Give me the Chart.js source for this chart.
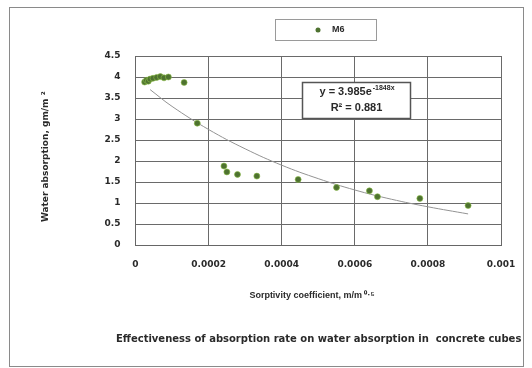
<!DOCTYPE html>
<html>
<head>
<meta charset="utf-8">
<script src="https://cdn.jsdelivr.net/npm/chart.js@4.4.1/dist/chart.umd.min.js"></script>
<style>
  html, body { margin: 0; padding: 0; background: #fff; }
  #wrap { width: 532px; height: 368px; }
</style>
</head>
<body>
<div id="wrap"><canvas id="chart" width="532" height="368"></canvas></div>
<script>
// sorptivity (x) vs water absorption (y), series M6
const seriesName = 'M6';
const sorptivity = [0.000025, 0.00003, 0.000035, 0.00004, 0.000048, 0.000058, 0.000068, 0.000078, 0.00009,
  0.000133, 0.000169, 0.000242, 0.00025, 0.000279, 0.000332, 0.000445, 0.00055, 0.00064, 0.000662, 0.000778, 0.00091];
const absorption = [3.88, 3.92, 3.90, 3.95, 3.97, 3.99, 4.01, 3.98, 4.00,
  3.87, 2.90, 1.88, 1.74, 1.68, 1.64, 1.56, 1.37, 1.29, 1.15, 1.11, 0.94];

// exponential trendline
const trendX = [0.00004, 0.0001, 0.0002, 0.0003, 0.0004, 0.0005, 0.0006, 0.0007, 0.0008, 0.00091];
const trendY = [3.70, 3.30, 2.75, 2.29, 1.90, 1.58, 1.31, 1.09, 0.91, 0.74];

const xTicks = ['0', '0.0002', '0.0004', '0.0006', '0.0008', '0.001'];
const yTicks = ['0', '0.5', '1', '1.5', '2', '2.5', '3', '3.5', '4', '4.5'];

const xTitle = 'Sorptivity coefficient, m/m \u2070\u00B7\u2075     ';
const yTitle = 'Water absorption, gm/m \u00B2    ';
const caption = 'Effectiveness of absorption rate on water absorption in  concrete cubes';
const eqMain = 'y = 3.985e';
const eqExp = '-1848x';
const eqR2 = 'R\u00B2 = 0.881';

const FONT = '"Liberation Sans", Arial, sans-serif';
const WIDE = '"DejaVu Sans", Verdana, sans-serif';
const TXT = '#2a2a2a';

const extras = {
  id: 'extras',
  afterDraw(chart) {
    const ctx = chart.ctx;
    ctx.save();
    // outer frame
    ctx.strokeStyle = '#8a8a8a';
    ctx.lineWidth = 1;
    ctx.strokeRect(9.5, 7.5, 514, 359);

    // legend box
    ctx.strokeStyle = '#9a9a9a';
    ctx.strokeRect(275.5, 19.5, 101, 21);
    ctx.fillStyle = '#4e7230';
    ctx.beginPath();
    ctx.arc(318, 30, 2.5, 0, Math.PI * 2);
    ctx.fill();
    ctx.fillStyle = TXT;
    ctx.font = 'bold 9px ' + FONT;
    ctx.textBaseline = 'middle';
    ctx.textAlign = 'left';
    ctx.fillText(seriesName, 332, 30);

    // equation box
    ctx.fillStyle = '#fff';
    ctx.fillRect(302, 82, 109, 37);
    ctx.strokeStyle = '#555';
    ctx.lineWidth = 1.5;
    ctx.strokeRect(302.5, 82.5, 108, 36);
    ctx.fillStyle = TXT;
    ctx.font = 'bold 11px ' + FONT;
    const w1 = ctx.measureText(eqMain).width;
    ctx.font = 'bold 7px ' + FONT;
    const w2 = ctx.measureText(eqExp).width;
    let x0 = 356.5 - (w1 + w2) / 2;
    ctx.font = 'bold 11px ' + FONT;
    ctx.fillText(eqMain, x0, 92);
    ctx.font = 'bold 7px ' + FONT;
    ctx.fillText(eqExp, x0 + w1 + 1, 88);
    ctx.font = 'bold 11px ' + FONT;
    ctx.textAlign = 'center';
    ctx.fillText(eqR2, 356.5, 108);

    // caption
    ctx.font = 'bold 10px ' + WIDE;
    ctx.textAlign = 'left';
    ctx.fillText(caption, 116, 339);
    ctx.restore();
  }
};

const data = {
  datasets: [
    {
      type: 'scatter',
      label: seriesName,
      data: sorptivity.map((x, i) => ({ x, y: absorption[i] })),
      backgroundColor: '#4e7230',
      borderColor: 'rgba(140, 190, 70, 0.6)',
      borderWidth: 1,
      pointRadius: 3,
      order: 1,
    },
    {
      type: 'line',
      label: 'trend',
      data: trendX.map((x, i) => ({ x, y: trendY[i] })),
      borderColor: '#939393',
      borderWidth: 1,
      pointRadius: 0,
      tension: 0.4,
      fill: false,
      order: 2,
    },
  ],
};

new Chart(document.getElementById('chart'), {
  data,
  options: {
    responsive: false,
    animation: false,
    devicePixelRatio: 1,
    layout: { padding: { left: 40, right: 31, top: 56, bottom: 67 } },
    plugins: {
      legend: { display: false },
      tooltip: { enabled: false },
    },
    scales: {
      x: {
        type: 'linear',
        min: 0,
        max: 0.001,
        afterFit: s => { s.height = 56; },
        afterBuildTicks: s => { s.ticks = xTicks.map(t => ({ value: parseFloat(t) })); },
        border: { color: '#666', width: 1 },
        grid: { color: '#6a6a6a', lineWidth: 1, drawTicks: false },
        ticks: {
          padding: 14,
          maxRotation: 0,
          color: TXT,
          font: { family: WIDE, size: 9, weight: 'bold' },
          callback: (v, i) => xTicks[i],
        },
        title: {
          display: true,
          text: xTitle,
          color: TXT,
          padding: 0,
          font: { family: FONT, size: 9, weight: 'bold' },
        },
      },
      y: {
        type: 'linear',
        min: 0,
        max: 4.5,
        afterFit: s => { s.width = 95.5; },
        afterBuildTicks: s => { s.ticks = yTicks.map(t => ({ value: parseFloat(t) })); },
        border: { color: '#666', width: 1 },
        grid: { color: '#6a6a6a', lineWidth: 1, drawTicks: false },
        ticks: {
          padding: 15,
          color: TXT,
          font: { family: WIDE, size: 9, weight: 'bold' },
          callback: (v, i) => yTicks[i],
        },
        title: {
          display: true,
          text: yTitle,
          color: TXT,
          padding: 0,
          font: { family: WIDE, size: 9, weight: 'bold' },
        },
      },
    },
  },
  plugins: [extras],
});
</script>
</body>
</html>
